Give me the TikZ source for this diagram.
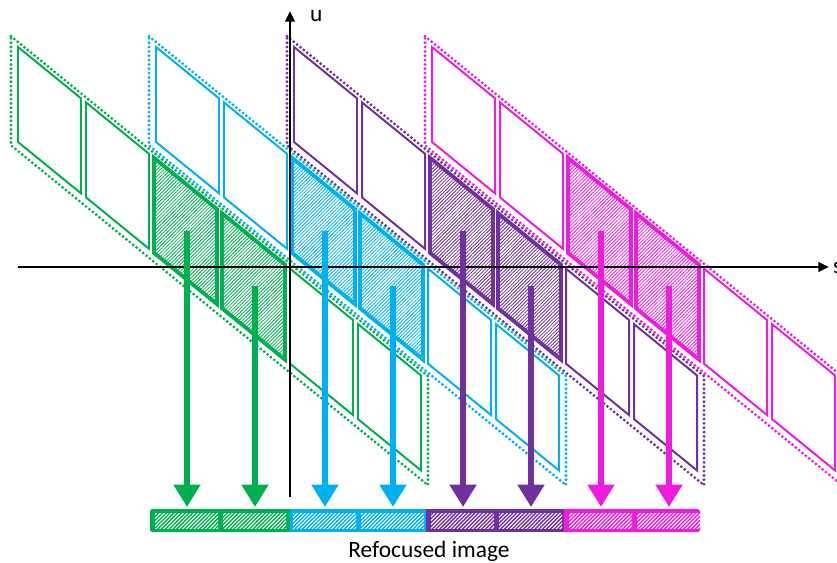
\documentclass[tikz,border=0pt]{standalone}
\usepackage{fontspec}
\setmainfont{Carlito}
\usetikzlibrary{arrows.meta,patterns.meta}
\definecolor{cgreen}{HTML}{00B050}
\definecolor{cblue}{HTML}{00B0F0}
\definecolor{cpurple}{HTML}{7030A0}
\definecolor{cmagenta}{HTML}{EE1CDC}
\begin{document}
\begin{tikzpicture}[x=0.03cm,y=-0.03cm,
  cellbox/.style={line width=1.7pt},
  thickbox/.style={line width=3.3pt},
  hatchfill/.style={line width=0.7pt,pattern={Lines[angle=45,distance=2.1pt,line width=0.7pt]},pattern color=#1},
  dotbox/.style={line width=2.7pt,dash pattern=on 0pt off 3.7pt,line cap=round},
  axisline/.style={line width=2.3pt,-{Triangle[length=9pt,width=8pt]}},
  refarrow/.style={line width=4.5pt,-{Triangle[length=19pt,width=22pt]}},
  barhatch/.style={line width=0.9pt,pattern={Lines[angle=45,distance=2.3pt,line width=0.9pt]},pattern color=white},
  lbl/.style={font=\fontsize{20}{22}\selectfont,inner sep=0pt}]
\useasboundingbox (0,0) rectangle (837,563);
\def\k{0.815}
% cell groups
\foreach \g/\col in {0/cgreen,1/cblue,2/cpurple,3/cmagenta}{
  \pgfmathsetmacro\xo{18+138*\g}
  \draw[dotbox,\col] (\xo-7,{47-5-7*\k}) coordinate (d\g) -- (\xo+410,{47-5+410*\k}) -- (\xo+410,{47+95+9+410*\k}) -- (\xo-7,{47+95+9-7*\k}) -- cycle;
  \foreach \i in {0,1,4,5}{
    \pgfmathsetmacro\cx{\xo+68*\i}
    \pgfmathsetmacro\cy{47+68*\i*\k}
    \draw[cellbox,\col] (\cx,\cy) coordinate (c\g\i) -- ++(63,{63*\k}) -- ++(0,95) -- ++(-63,{-63*\k}) -- cycle;
  }
  \foreach \i in {2,3}{
    \pgfmathsetmacro\cx{\xo+68*\i}
    \pgfmathsetmacro\cy{47+68*\i*\k}
    \path[hatchfill=\col] (\cx,\cy) -- ++(63,{63*\k}) -- ++(0,95) -- ++(-63,{-63*\k}) -- cycle;
    \draw[thickbox,\col] (\cx,\cy) coordinate (c\g\i) -- ++(63,{63*\k}) -- ++(0,95) -- ++(-63,{-63*\k}) -- cycle;
  }
}
% axes
\draw[axisline] (18,267) coordinate (s0) -- (829,267) coordinate (s1);
\draw[axisline] (290,497) coordinate (u0) -- (290,11) coordinate (u1);
\node[lbl,anchor=west] (ulab) at (310,16) {u};
\node[lbl,anchor=west] (slab) at (833,268) {s};
% refocused image bar
\fill[cgreen,rounded corners=1.5pt] (150,509) rectangle (296,532);
\fill[cmagenta,rounded corners=1.5pt] (556,509) rectangle (700,532);
\fill[cblue] (290,509) rectangle (426,532);
\fill[cpurple] (426,509) rectangle (564,532);
% arrows and bar cells
\foreach \g/\col in {0/cgreen,1/cblue,2/cpurple,3/cmagenta}{
  \pgfmathsetmacro\xo{18+138*\g}
  \foreach \i in {2,3}{
    \pgfmathsetmacro\cx{\xo+68*\i}
    \pgfmathsetmacro\cy{47+68*\i*\k}
    \coordinate (a\g\i) at (\cx+33,{\cy+31.5*\k+47.5});
    \coordinate (b\g\i) at (\cx+33,507);
    \draw[refarrow,\col] (a\g\i) -- (b\g\i);
    \path[barhatch] (\cx+1,513) rectangle (\cx+64,528);
  }
}
\node[lbl] (title) at (429,551) {Refocused image};
\end{tikzpicture}
\end{document}
